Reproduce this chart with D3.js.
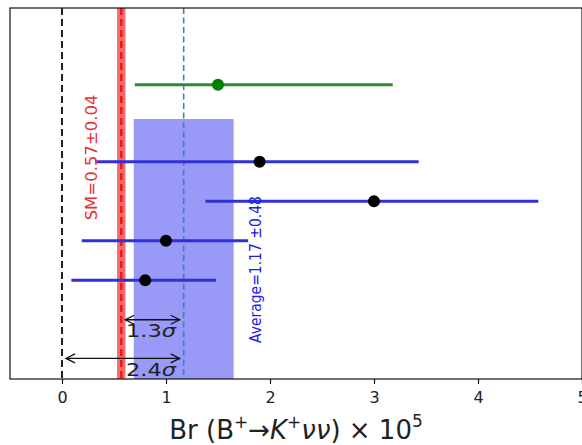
<!DOCTYPE html>
<html><head><meta charset="utf-8">
<script src="https://cdn.jsdelivr.net/npm/d3@7"></script>
<style>body{margin:0;background:#fff}svg{display:block}text{font-family:"DejaVu Sans",sans-serif}</style>
</head><body>
<svg id="c" width="582" height="445"></svg>
<script>
// ---- data ----
const xTicks = [0, 1, 2, 3, 4, 5];
const greenVal = [1.5], greenLo = [0.7], greenHi = [3.18], greenRow = [7.45];
const blueVals = [1.9, 3.0, 1.0, 0.8];
const blueLo = [0.32, 1.38, 0.19, 0.09];
const blueHi = [3.43, 4.58, 1.79, 1.48];
const blueRows = [5.5, 4.5, 3.5, 2.5];
const smVal = 0.57, smErr = 0.04;
const avgVal = 1.17, avgErr = 0.48, avgBandTop = 6.58;
const arrows = [{from: 0.57, to: 1.17, row: 1.5, label: "1.3"}, {from: 0, to: 1.17, row: 0.52, label: "2.4"}];

const svg = d3.select("#c");
const L = 10, R = 582, T = 8, B = 379;
const x = d3.scaleLinear().domain([-0.5, 5]).range([L, R]);
const y = d3.scaleLinear().domain([0, 9.39]).range([B, T]);

const defs = svg.append("defs");
defs.append("clipPath").attr("id", "clip").append("rect").attr("x", L).attr("y", T).attr("width", R - L).attr("height", B - T);
const g = svg.append("g").attr("clip-path", "url(#clip)");

// SM band
g.append("rect").attr("x", x(smVal - smErr)).attr("width", x(smVal + smErr) - x(smVal - smErr))
  .attr("y", T).attr("height", B - T).attr("fill", "#f26a6a");
g.append("line").attr("x1", x(smVal)).attr("x2", x(smVal)).attr("y1", T).attr("y2", B)
  .attr("stroke", "#e8191b").attr("stroke-width", 2.5).attr("stroke-dasharray", "7,4");
// Average band
g.append("rect").attr("x", x(avgVal - avgErr)).attr("width", x(avgVal + avgErr) - x(avgVal - avgErr))
  .attr("y", y(avgBandTop)).attr("height", B - y(avgBandTop)).attr("fill", "#9999f7");
// zero line
g.append("line").attr("x1", x(0)).attr("x2", x(0)).attr("y1", T).attr("y2", B)
  .attr("stroke", "#222").attr("stroke-width", 2).attr("stroke-dasharray", "7,4");
// average line
g.append("line").attr("x1", x(avgVal)).attr("x2", x(avgVal)).attr("y1", T).attr("y2", B)
  .attr("stroke", "#3f7fc4").attr("stroke-width", 1.6).attr("stroke-dasharray", "6,3.5");

// green point
greenVal.forEach((v, i) => {
  g.append("line").attr("x1", x(greenLo[i])).attr("x2", x(greenHi[i])).attr("y1", y(greenRow[i])).attr("y2", y(greenRow[i]))
    .attr("stroke", "#2f8a2f").attr("stroke-width", 3);
  g.append("circle").attr("cx", x(v)).attr("cy", y(greenRow[i])).attr("r", 6).attr("fill", "#008000");
});
// blue points
blueVals.forEach((v, i) => {
  g.append("line").attr("x1", x(blueLo[i])).attr("x2", x(blueHi[i])).attr("y1", y(blueRows[i])).attr("y2", y(blueRows[i]))
    .attr("stroke", "#3030d8").attr("stroke-width", 3);
  g.append("circle").attr("cx", x(v)).attr("cy", y(blueRows[i])).attr("r", 6).attr("fill", "#000");
});

// rotated labels
svg.append("text").attr("transform", `translate(${x(0.28)},${y(7.2)}) rotate(-90)`)
  .attr("text-anchor", "end").attr("fill", "#e8302e").attr("font-size", 16.5).attr("dy", "0.35em")
  .text("SM=0.57±0.04");
svg.append("text").attr("transform", `translate(${x(1.86)},${y(4.63)}) rotate(-90)`)
  .attr("text-anchor", "end").attr("fill", "#2020e0").attr("font-size", 16).attr("dy", "0.35em")
  .attr("textLength", 147).attr("lengthAdjust", "spacingAndGlyphs")
  .text("Average=1.17 ±0.48");

// arrows
arrows.forEach(a => {
  const x1 = x(a.from) + 4, x2 = x(a.to) - 4, yy = y(a.row);
  const ag = svg.append("g").attr("stroke", "#111").attr("stroke-width", 1.3).attr("fill", "none");
  ag.append("line").attr("x1", x1).attr("x2", x2).attr("y1", yy).attr("y2", yy);
  ag.append("path").attr("d", `M${x1 + 9},${yy - 4.5}L${x1},${yy}L${x1 + 9},${yy + 4.5}`);
  ag.append("path").attr("d", `M${x2 - 9},${yy - 4.5}L${x2},${yy}L${x2 - 9},${yy + 4.5}`);
  const t = svg.append("text").attr("x", x(0.615)).attr("y", yy + 17.5).attr("font-size", 18).attr("fill", "#222")
    .attr("textLength", 50).attr("lengthAdjust", "spacingAndGlyphs");
  t.append("tspan").text(a.label);
  t.append("tspan").attr("font-style", "italic").text("σ");
});

// frame
svg.append("rect").attr("x", L).attr("y", T).attr("width", R - L).attr("height", B - T)
  .attr("fill", "none").attr("stroke", "#111").attr("stroke-width", 1.2);

// x axis
const ax = svg.append("g").attr("transform", `translate(0,${B})`)
  .call(d3.axisBottom(x).tickValues(xTicks).tickFormat(d3.format("d")).tickSize(5).tickPadding(8));
ax.select(".domain").remove();
ax.selectAll("line").attr("stroke", "#111").attr("stroke-width", 1.2);
ax.selectAll("text").attr("font-size", 16).attr("fill", "#222").attr("font-family", "DejaVu Sans");

// x label
const xl = svg.append("text").attr("x", (L + R) / 2).attr("y", 439).attr("text-anchor", "middle")
  .attr("font-size", 26).attr("fill", "#222");
xl.append("tspan").text("Br (B");
xl.append("tspan").attr("font-size", 17).attr("dy", -11).text("+");
xl.append("tspan").attr("font-size", 26).attr("dy", 11).text("→");
xl.append("tspan").attr("font-style", "italic").text("K");
xl.append("tspan").attr("font-size", 17).attr("dy", -11).text("+");
xl.append("tspan").attr("font-size", 26).attr("dy", 11).attr("font-style", "italic").text("νν");
xl.append("tspan").text(") × 10");
xl.append("tspan").attr("font-size", 17).attr("dy", -12).text("5");
</script>
</body></html>
